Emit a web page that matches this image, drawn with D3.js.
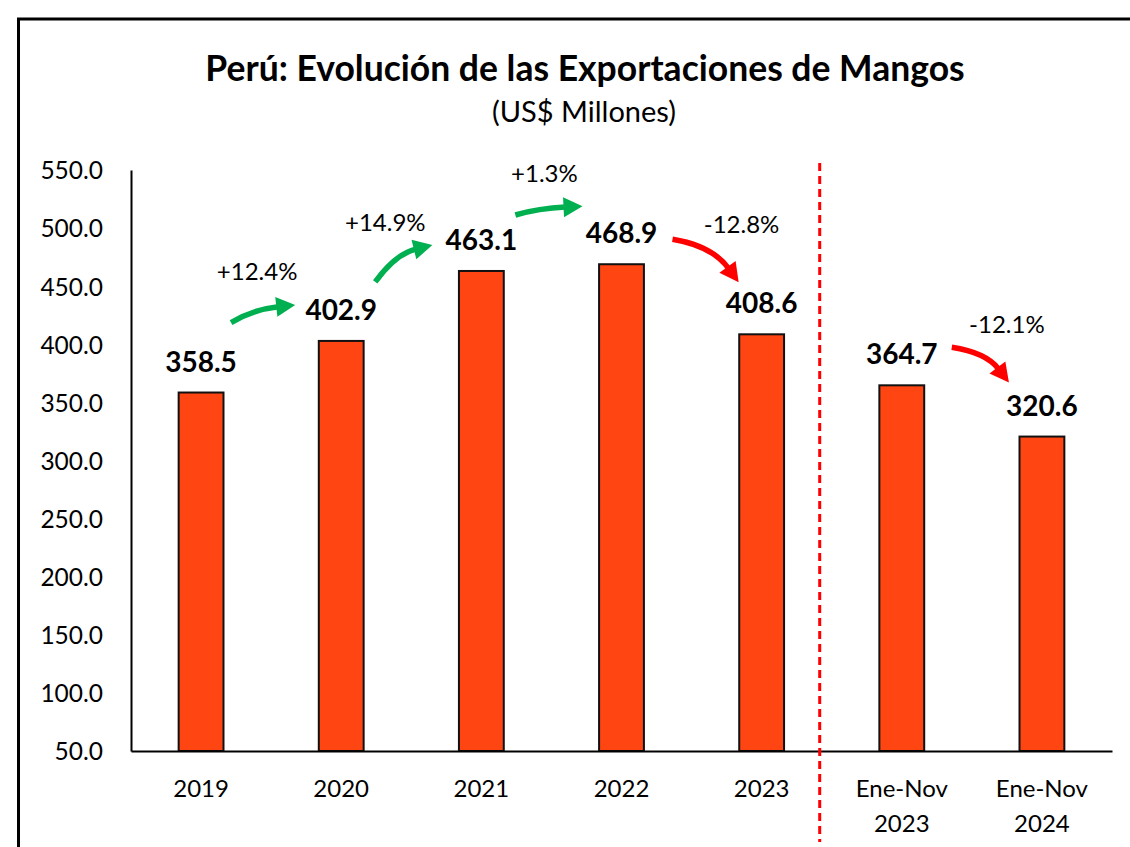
<!DOCTYPE html>
<html>
<head>
<meta charset="utf-8">
<script src="https://cdn.jsdelivr.net/npm/d3@7"></script>
<style>
    body { margin: 0; background: #fff; }
    svg { display: block; font-family: Lato, "Open Sans", sans-serif; }
</style>
</head>
<body>
<svg id="graph"></svg>
<script>
//Chart data
var categories = ["2019", "2020", "2021", "2022", "2023", "Ene-Nov 2023", "Ene-Nov 2024"];
var values = [358.5, 402.9, 463.1, 468.9, 408.6, 364.7, 320.6];
var yTicks = [50, 100, 150, 200, 250, 300, 350, 400, 450, 500, 550];
var changeLabels = ["+12.4%", "+14.9%", "+1.3%", "-12.8%", "-12.1%"];
var changeFrom = [0, 1, 2, 3, 5];
var changeTo = [1, 2, 3, 4, 6];

//Nudges for the hand placed arrows and % labels (pixels from the bar anchors)
var annoLayout = [
    {ldx: -14, ldy: -61, sdx: 30, sdy: -70, edx: -46, edy: -36},
    {ldx: -26, ldy: -40, sdx: 34, sdy: -59, edx: -49, edy: -26},
    {ldx: -7, ldy: -82, sdx: 34, sdy: -56, edx: -39, edy: -58},
    {ldx: 50, ldy: -101, sdx: 51, sdy: -25, edx: -23, edy: -52},
    {ldx: 35, ldy: -104, sdx: 50, sdy: -38, edx: -33, edy: -54}
];

var screen = {width: 1130, height: 847};
var plot = {left: 131, right: 1112, top: 170, bottom: 751};

var svg = d3.select("#graph")
    .attr("width", screen.width)
    .attr("height", screen.height);

//Outer frame (runs off the right and bottom edges like the original)
svg.append("rect")
    .attr("x", 18.5)
    .attr("y", 19)
    .attr("width", 1200)
    .attr("height", 900)
    .attr("fill", "none")
    .attr("stroke", "#000")
    .attr("stroke-width", 3);

//Title
svg.append("text")
    .attr("x", 585)
    .attr("y", 81)
    .attr("text-anchor", "middle")
    .attr("font-size", 35.5)
    .attr("font-weight", "bold")
    .text("Perú: Evolución de las Exportaciones de Mangos");

svg.append("text")
    .attr("x", 584)
    .attr("y", 122)
    .attr("text-anchor", "middle")
    .attr("font-size", 29)
    .text("(US$ Millones)");

//Scales
var xScale = d3.scaleBand()
    .domain(categories)
    .range([plot.left, plot.right])
    .paddingInner(0.68)
    .paddingOuter(0.34);

var yScale = d3.scaleLinear()
    .domain([50, 550])
    .range([plot.bottom, plot.top]);

var xc = function(i) { return xScale(categories[i]) + xScale.bandwidth() / 2; };

//Y axis
var yAxis = svg.append("g")
    .attr("transform", "translate(" + plot.left + ",0)")
    .call(d3.axisLeft(yScale)
        .tickValues(yTicks)
        .tickFormat(d3.format(".1f"))
        .tickSize(0)
        .tickSizeOuter(0)
        .tickPadding(28));
yAxis.select(".domain").attr("stroke", "#000").attr("stroke-width", 2);
yAxis.selectAll("text")
    .attr("font-size", 24.5)
    .attr("font-family", "Lato, sans-serif")
    .attr("fill", "#000")
    .attr("dy", "0.36em");

//Bars
svg.selectAll("rect.bar")
    .data(values)
    .enter()
    .append("rect")
    .attr("class", "bar")
    .attr("x", function(d, i) { return xScale(categories[i]); })
    .attr("y", function(d) { return yScale(d); })
    .attr("width", xScale.bandwidth())
    .attr("height", function(d) { return yScale(50) - yScale(d); })
    .attr("fill", "#FF4511")
    .attr("stroke", "#111")
    .attr("stroke-width", 2);

//X axis
var xAxis = svg.append("g")
    .attr("transform", "translate(0," + plot.bottom + ")")
    .call(d3.axisBottom(xScale).tickSize(0).tickSizeOuter(0).tickFormat(""));
xAxis.select(".domain").attr("stroke", "#000").attr("stroke-width", 2);

//Category labels (split on the space for the Ene-Nov ones)
svg.selectAll("text.cat")
    .data(categories)
    .enter()
    .append("text")
    .attr("class", "cat")
    .attr("text-anchor", "middle")
    .attr("font-size", 24)
    .each(function(d, i) {
        var lines = d.split(" ");
        var t = d3.select(this);
        lines.forEach(function(line, k) {
            t.append("tspan")
                .attr("x", xc(i))
                .attr("y", 797 + k * 35)
                .text(line);
        });
    });

//Value labels
svg.selectAll("text.val")
    .data(values)
    .enter()
    .append("text")
    .attr("class", "val")
    .attr("x", function(d, i) { return xc(i); })
    .attr("y", function(d) { return yScale(d) - 21; })
    .attr("text-anchor", "middle")
    .attr("font-size", 28)
    .attr("font-weight", "bold")
    .text(function(d) { return d3.format(".1f")(d); });

//Dashed separator between years and Ene-Nov
var sepX = (xc(4) + xc(5)) / 2 - 12;
svg.append("line")
    .attr("x1", sepX)
    .attr("x2", sepX)
    .attr("y1", 163)
    .attr("y2", 842)
    .attr("stroke", "#FF0000")
    .attr("stroke-width", 3)
    .attr("stroke-dasharray", "8,5");

//Define fnc to draw a curved arrow
var drawArrow = function(p0, p2, rising, color)
{
    var dx = p2[0] - p0[0], dy = p2[1] - p0[1];
    var c = rising
        ? [p0[0] + 0.35 * dx, p2[1] - 0.25 * dy]
        : [p0[0] + 0.6 * dx, p0[1] + 0.15 * dy];
    var tx = p2[0] - c[0], ty = p2[1] - c[1];
    var len = Math.sqrt(tx * tx + ty * ty);
    tx /= len; ty /= len;
    var headLen = 19, headHalf = 10;
    var base = [p2[0] - tx * headLen, p2[1] - ty * headLen];
    var path = d3.path();
    path.moveTo(p0[0], p0[1]);
    path.quadraticCurveTo(c[0], c[1], base[0] + tx * 2, base[1] + ty * 2);
    svg.append("path")
        .attr("d", path.toString())
        .attr("fill", "none")
        .attr("stroke", color)
        .attr("stroke-width", 5.5);
    var head = [
        [p2[0], p2[1]],
        [base[0] - ty * headHalf, base[1] + tx * headHalf],
        [base[0] + ty * headHalf, base[1] - tx * headHalf]
    ];
    svg.append("path")
        .attr("d", "M" + head.join("L") + "Z")
        .attr("fill", color);
}

//Change labels and arrows
changeLabels.forEach(function(lbl, k) {
    var a = changeFrom[k], b = changeTo[k], L = annoLayout[k];
    var rising = values[b] > values[a];
    var color = rising ? "#00B050" : "#FF0000";
    svg.append("text")
        .attr("x", (xc(a) + xc(b)) / 2 + L.ldx)
        .attr("y", yScale(values[b]) + L.ldy)
        .attr("text-anchor", "middle")
        .attr("font-size", 24)
        .text(lbl);
    drawArrow(
        [xc(a) + L.sdx, yScale(values[a]) + L.sdy],
        [xc(b) + L.edx, yScale(values[b]) + L.edy],
        rising, color);
});
</script>
</body>
</html>
